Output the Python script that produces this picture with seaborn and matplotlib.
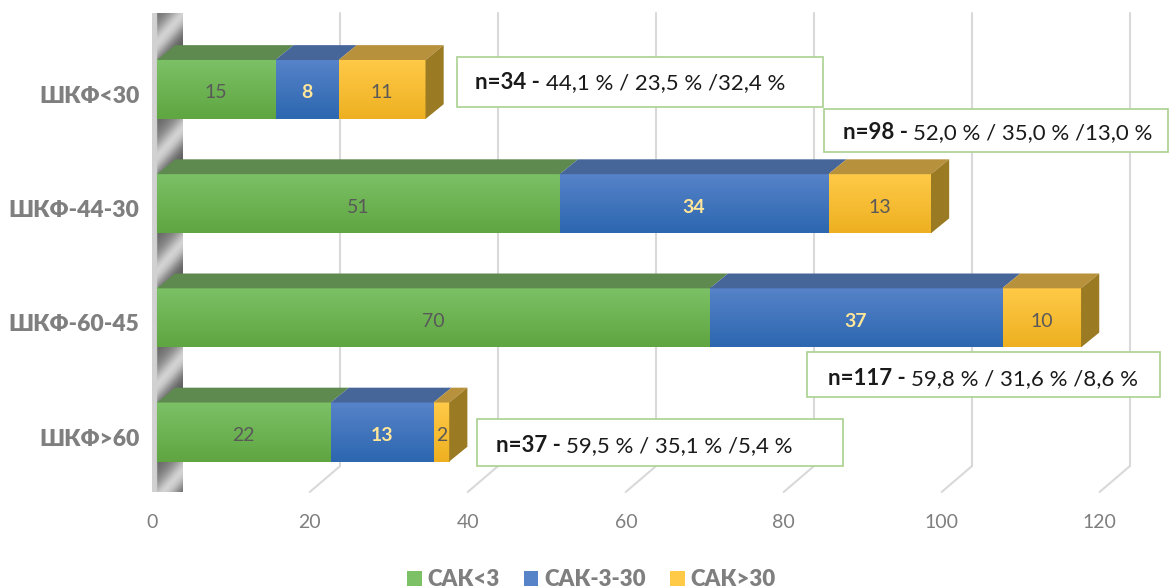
import numpy as np
import pandas as pd
import matplotlib
matplotlib.use("Agg")
import matplotlib.pyplot as plt
import seaborn as sns
from matplotlib.patches import Polygon, Rectangle, Patch
from matplotlib.colors import LinearSegmentedColormap
from matplotlib.transforms import ScaledTranslation

# ----- data -----
categories = ["ШКФ<30", "ШКФ-44-30", "ШКФ-60-45", "ШКФ>60"]
series = ["САК<3", "САК-3-30", "САК>30"]
sak_lt3 = [15, 51, 70, 22]
sak_3_30 = [8, 34, 37, 13]
sak_gt30 = [11, 13, 10, 2]
n_total = [34, 98, 117, 37]
pct_text = ["44,1 % / 23,5 % /32,4 %",
            "52,0 % / 35,0 % /13,0 %",
            "59,8 % / 31,6 % /8,6 %",
            "59,5 % / 35,1 % /5,4 %"]
xticks = [0, 20, 40, 60, 80, 100, 120]

# ----- style -----
sns.set_style("white")
plt.rcParams["font.family"] = ["Lato", "Noto Sans", "DejaVu Sans"]

GRAY = "#7f7f7f"
# front gradient (top, bottom), top face
COLORS = {
    "САК<3":    {"front": ("#7cc166", "#5fa641"), "top": "#5e8a4f", "label": "#595959", "bold": False},
    "САК-3-30": {"front": ("#5783c9", "#2c67b0"), "top": "#46669a", "label": "#ffe699", "bold": True},
    "САК>30":   {"front": ("#ffca48", "#eeb021"), "top": "#b8913c", "label": "#595959", "bold": False},
}
SIDE = "#9a7a22"

BAR_H = 0.517       # bar thickness (category units)
DEPTH_X = 2.3       # bar depth offset, x units
DEPTH_Y = 0.13      # bar depth offset, category units
BACK_X = 3.15       # back-plane offset from bar front
FLOOR_X = -0.65     # front floor edge offset
Y_TOP, Y_BACK, Y_FLOOR = -0.67, 3.30, 3.525

df = pd.DataFrame({"cat": categories, "g": sak_lt3, "b": sak_3_30, "y": sak_gt30})
df["cum_b"] = df["g"] + df["b"]
df["cum_y"] = df["cum_b"] + df["y"]

fig = plt.figure(figsize=(11.71, 5.88), dpi=100)
ax = fig.add_axes([0.1273, 0.1633, 0.8701, 0.8146])

# ----- back wall (metallic y-axis plane) -----
wall = Polygon([(FLOOR_X, Y_FLOOR), (FLOOR_X, -0.48), (BACK_X, Y_TOP), (BACK_X, Y_BACK)],
               closed=True, facecolor="none", edgecolor="none", clip_on=False)
ax.add_patch(wall)
wx = np.linspace(0, 1, 60)
wy = np.linspace(Y_TOP, Y_FLOOR, 800)
WX, WY = np.meshgrid(wx, wy)
phase = (WY + 0.3 * (WX - 0.5) - 0.5) % 1.0
dist = np.minimum(phase, 1 - phase)
shade = 0.36 + 0.45 * np.exp(-(dist / 0.14) ** 2) + 0.1 * np.exp(-((phase - 0.8) / 0.15) ** 2)
shade[:, wx < 0.16] = 0.82
wall_img = ax.imshow(shade, cmap="gray", vmin=0, vmax=1, aspect="auto",
                     extent=[FLOOR_X, BACK_X, Y_FLOOR, Y_TOP], origin="upper",
                     zorder=0.5, interpolation="bilinear", clip_on=False)
wall_img.set_clip_path(wall)

# ----- gridlines on back plane + floor -----
for v in xticks[1:]:
    ax.plot([v + BACK_X, v + BACK_X], [Y_TOP, Y_BACK], color="#d9d9d9", lw=1.5,
            zorder=0.4, clip_on=False)
    ax.plot([v + BACK_X, v + FLOOR_X], [Y_BACK, Y_FLOOR], color="#d9d9d9", lw=1.5,
            zorder=0.4, clip_on=False)

# ----- stacked bars (front faces) -----
layers = [("cum_y", "САК>30", 2), ("cum_b", "САК-3-30", 3), ("g", "САК<3", 4)]
grad = np.linspace(0, 1, 64).reshape(-1, 1)
for col, name, z in layers:
    n_before = len(ax.patches)
    c = COLORS[name]
    sns.barplot(data=df, x=col, y="cat", color=c["front"][1], saturation=1,
                width=BAR_H, errorbar=None, linewidth=0, ax=ax, zorder=z)
    cmap = LinearSegmentedColormap.from_list(name, [c["front"][0], c["front"][1]])
    for p in ax.patches[n_before:]:
        x0, y0, w, h = p.get_x(), p.get_y(), p.get_width(), p.get_height()
        ax.imshow(grad, cmap=cmap, aspect="auto", extent=[x0, x0 + w, y0 + h, y0],
                  zorder=z + 0.1, interpolation="bilinear")

# ----- 3D top and side faces, value labels -----
seg_vals = [sak_lt3, sak_3_30, sak_gt30]
for i in range(len(categories)):
    yt = i - BAR_H / 2
    yb = i + BAR_H / 2
    start = 0
    for k, name in enumerate(series):
        c = COLORS[name]
        end = start + seg_vals[k][i]
        ax.add_patch(Polygon([(start, yt), (end, yt), (end + DEPTH_X, yt - DEPTH_Y),
                              (start + DEPTH_X, yt - DEPTH_Y)],
                             closed=True, facecolor=c["top"], edgecolor="none", zorder=5))
        ax.text((start + end) / 2, i + 0.03, str(seg_vals[k][i]), ha="center", va="center",
                fontsize=14, color=c["label"], fontweight="bold" if c["bold"] else "normal",
                zorder=8)
        start = end
    ax.add_patch(Polygon([(start, yt), (start + DEPTH_X, yt - DEPTH_Y),
                          (start + DEPTH_X, yb - DEPTH_Y), (start, yb)],
                         closed=True, facecolor=SIDE, edgecolor="none", zorder=5))

# ----- annotation boxes (layout in data coords: x0, x1, y0, y1, text x, text y) -----
box_layout = [
    (38.0, 84.3, -0.285, 0.153, 40.3, -0.06),
    (84.4, 128.0, 0.171, 0.547, 86.8, 0.38),
    (82.3, 127.0, 2.30, 2.69, 84.9, 2.53),
    (40.5, 86.8, 2.89, 3.30, 42.9, 3.12),
]
for (x0, x1, y0, y1, tx, ty), n, pct in zip(box_layout, n_total, pct_text):
    ax.add_patch(Rectangle((x0, y0), x1 - x0, y1 - y0, facecolor="white",
                           edgecolor="#a9d18e", lw=1.2, zorder=9, clip_on=False))
    t_bold = ax.text(tx, ty, f"n={n} - ", ha="left", va="center", fontsize=16,
                     fontweight="bold", color="#1a1a1a", zorder=10)
    ax.annotate(pct, xy=(1, 0), xycoords=t_bold, ha="left", va="bottom",
                fontsize=16, color="#1a1a1a", zorder=10)

# ----- axes -----
ax.set_xlim(-1, 128)
ax.set_ylim(Y_FLOOR, Y_TOP)
ax.set_xlabel("")
ax.set_ylabel("")
ax.set_xticks(xticks)
ax.set_xticklabels([str(v) for v in xticks])
ax.set_yticks(range(len(categories)))
ax.set_yticklabels(categories)
ax.tick_params(axis="x", length=0, pad=16, labelsize=14, labelcolor=GRAY)
ax.tick_params(axis="y", length=0, pad=7, labelsize=16.5, labelcolor=GRAY)
for lab in ax.get_yticklabels():
    lab.set_fontweight("heavy")
    lab.set_transform(lab.get_transform() + ScaledTranslation(0, -5 / 100, fig.dpi_scale_trans))
for lab in ax.get_xticklabels():
    lab.set_transform(lab.get_transform() + ScaledTranslation(-5 / 100, 0, fig.dpi_scale_trans))
for s in ax.spines.values():
    s.set_visible(False)
ax.grid(False)

# ----- legend -----
handles = [Patch(facecolor=COLORS[s]["front"][0], edgecolor="none", label=s) for s in series]
leg = fig.legend(handles=handles, loc="center", bbox_to_anchor=(0.505, 0.014), ncol=3,
                 frameon=False, handlelength=0.65, handleheight=0.65, handletextpad=0.25,
                 columnspacing=1.1, prop={"size": 16, "weight": "heavy"})
for t in leg.get_texts():
    t.set_color(GRAY)

fig.savefig("out.png", dpi=100)
